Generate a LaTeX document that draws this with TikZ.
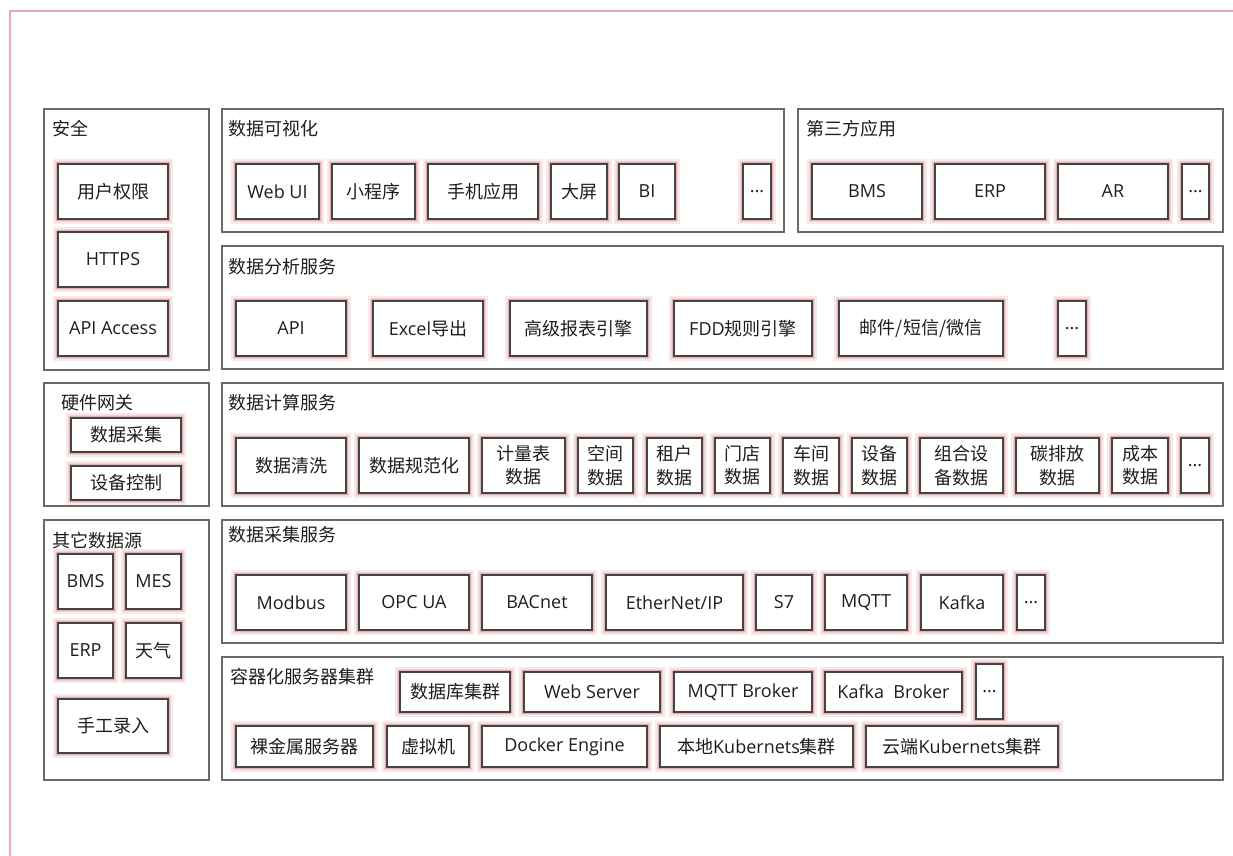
\documentclass[tikz,border=0pt]{standalone}
\usepackage{fontspec}
\setmainfont{Open Sans}
\newfontfamily\zh{Noto Sans CJK SC}
\definecolor{frame}{RGB}{230,172,172}
\definecolor{glowA}{RGB}{250,232,232}
\definecolor{glowB}{RGB}{242,210,210}
\definecolor{glowC}{RGB}{228,180,180}
\definecolor{ibd}{RGB}{68,68,68}
\definecolor{gbd}{RGB}{105,105,105}
\definecolor{txt}{RGB}{30,30,30}
\tikzset{
  ib/.style={rectangle, inner sep=0pt, outer sep=0pt, fill=white, draw=ibd, line width=1.1pt,
    text=txt, align=center, font=\fontsize{13.5}{17.5}\selectfont,
    preaction={draw=glowA, line width=7pt},
    preaction={draw=glowB, line width=4.6pt},
    preaction={draw=glowC, line width=2.6pt}},
  gb/.style={rectangle, inner sep=0pt, outer sep=0pt, draw=gbd, line width=1pt},
  lbl/.style={anchor=west, inner sep=0pt, text=txt, font=\fontsize{13.5}{17.5}\selectfont\zh}
}
\newcommand{\bx}[7][]{%
  \node[ib,minimum width={(#5-#3)*0.75pt},minimum height={(#6-#4)*0.75pt},#1] (#2) at ({(#3+#5)/2},{(#4+#6)/2}) {#7};}
\newcommand{\grp}[8]{%
  \node[gb,minimum width={(#4-#2)*0.75pt},minimum height={(#5-#3)*0.75pt}] (#1) at ({(#2+#4)/2},{(#3+#5)/2}) {};
  \node[lbl] (#1l) at (#6,#7) {#8};}
\begin{document}
\begin{tikzpicture}[x=0.75pt,y=-0.75pt]
\useasboundingbox (0,0) rectangle (1233,856);
% outer frame
\coordinate (fa) at (10,856);
\coordinate (fb) at (10,11);
\coordinate (fc) at (1233,11);
\draw[frame, line width=1.4pt] (fa) -- (fb) -- (fc);

% 安全
\grp{sec}{44}{109}{209}{370}{52}{129}{安全}
\bx{s1}{58}{164}{168}{219}{\zh 用户权限}
\bx{s2}{58}{232}{168}{287}{HTTPS}
\bx{s3}{58}{301}{168}{356}{API Access}

% 数据可视化
\grp{vis}{222}{109}{784}{232}{228}{129}{数据可视化}
\bx{v1}{236}{164}{319}{219}{Web UI}
\bx{v2}{332}{164}{415}{219}{\zh 小程序}
\bx{v3}{428}{164}{538}{219}{\zh 手机应用}
\bx{v4}{551}{164}{607}{219}{\zh 大屏}
\bx{v5}{619}{164}{675}{219}{BI}
\bx{v6}{743}{164}{771}{219}{...}

% 第三方应用
\grp{thr}{798}{109}{1223}{232}{806}{129}{第三方应用}
\bx{t1}{812}{164}{922}{219}{BMS}
\bx{t2}{935}{164}{1045}{219}{ERP}
\bx{t3}{1058}{164}{1168}{219}{AR}
\bx{t4}{1182}{164}{1209}{219}{...}

% 数据分析服务
\grp{ana}{222}{246}{1223}{369}{228}{267}{数据分析服务}
\bx{a1}{236}{301}{346}{356}{API}
\bx{a2}{373}{301}{483}{356}{Excel{\zh 导出}}
\bx{a3}{510}{301}{647}{356}{\zh 高级报表引擎}
\bx{a4}{674}{301}{812}{356}{FDD{\zh 规则引擎}}
\bx{a5}{839}{301}{1003}{356}{\zh 邮件/短信/微信}
\bx{a6}{1058}{301}{1086}{356}{...}

% 硬件网关
\grp{hw}{44}{383}{209}{506}{61}{403}{硬件网关}
\bx{h1}{71}{418}{181}{452}{\zh 数据采集}
\bx{h2}{71}{466}{181}{500}{\zh 设备控制}

% 数据计算服务
\grp{cmp}{222}{383}{1223}{506}{228}{403}{数据计算服务}
\bx{c1}{236}{438}{346}{493}{\zh 数据清洗}
\bx{c2}{359}{438}{469}{493}{\zh 数据规范化}
\bx{c3}{482}{438}{565}{493}{\zh 计量表\\\zh 数据}
\bx{c4}{578}{438}{633}{493}{\zh 空间\\\zh 数据}
\bx{c5}{647}{438}{702}{493}{\zh 租户\\\zh 数据}
\bx{c6}{715}{438}{770}{493}{\zh 门店\\\zh 数据}
\bx{c7}{783}{438}{839}{493}{\zh 车间\\\zh 数据}
\bx{c8}{852}{438}{907}{493}{\zh 设备\\\zh 数据}
\bx{c9}{920}{438}{1003}{493}{\zh 组合设\\\zh 备数据}
\bx{c10}{1016}{438}{1099}{493}{\zh 碳排放\\\zh 数据}
\bx{c11}{1112}{438}{1168}{493}{\zh 成本\\\zh 数据}
\bx{c12}{1181}{438}{1209}{493}{...}

% 其它数据源
\grp{oth}{44}{520}{209}{780}{52}{541}{其它数据源}
\bx{o1}{58}{554}{113}{609}{BMS}
\bx{o2}{126}{554}{181}{609}{MES}
\bx{o3}{58}{623}{113}{678}{ERP}
\bx{o4}{126}{623}{181}{678}{\zh 天气}
\bx{o5}{58}{699}{168}{753}{\zh 手工录入}

% 数据采集服务
\grp{col}{222}{520}{1223}{643}{228}{535}{数据采集服务}
\bx{p1}{236}{575}{346}{630}{Modbus}
\bx{p2}{359}{575}{469}{630}{OPC UA}
\bx{p3}{482}{575}{592}{630}{BACnet}
\bx{p4}{606}{575}{743}{630}{EtherNet/IP}
\bx{p5}{756}{575}{812}{630}{S7}
\bx{p6}{825}{575}{907}{630}{MQTT}
\bx{p7}{921}{575}{1003}{630}{Kafka}
\bx{p8}{1017}{575}{1045}{630}{...}

% 容器化服务器集群
\grp{ctr}{222}{657}{1223}{780}{230}{677}{容器化服务器集群}
\bx{k1}{400}{672}{510}{712}{\zh 数据库集群}
\bx{k2}{524}{672}{660}{712}{Web Server}
\bx{k3}{674}{672}{812}{712}{MQTT Broker}
\bx{k4}{825}{672}{962}{712}{Kafka\ \ Broker}
\bx{k5}{976}{664}{1003}{719}{...}
\bx{k6}{236}{726}{373}{767}{\zh 裸金属服务器}
\bx{k7}{387}{726}{469}{767}{\zh 虚拟机}
\bx{k8}{482}{726}{647}{767}{Docker Engine}
\bx{k9}{660}{726}{853}{767}{{\zh 本地}Kubernets{\zh 集群}}
\bx{k10}{866}{726}{1058}{767}{{\zh 云端}Kubernets{\zh 集群}}
\end{tikzpicture}
\end{document}
